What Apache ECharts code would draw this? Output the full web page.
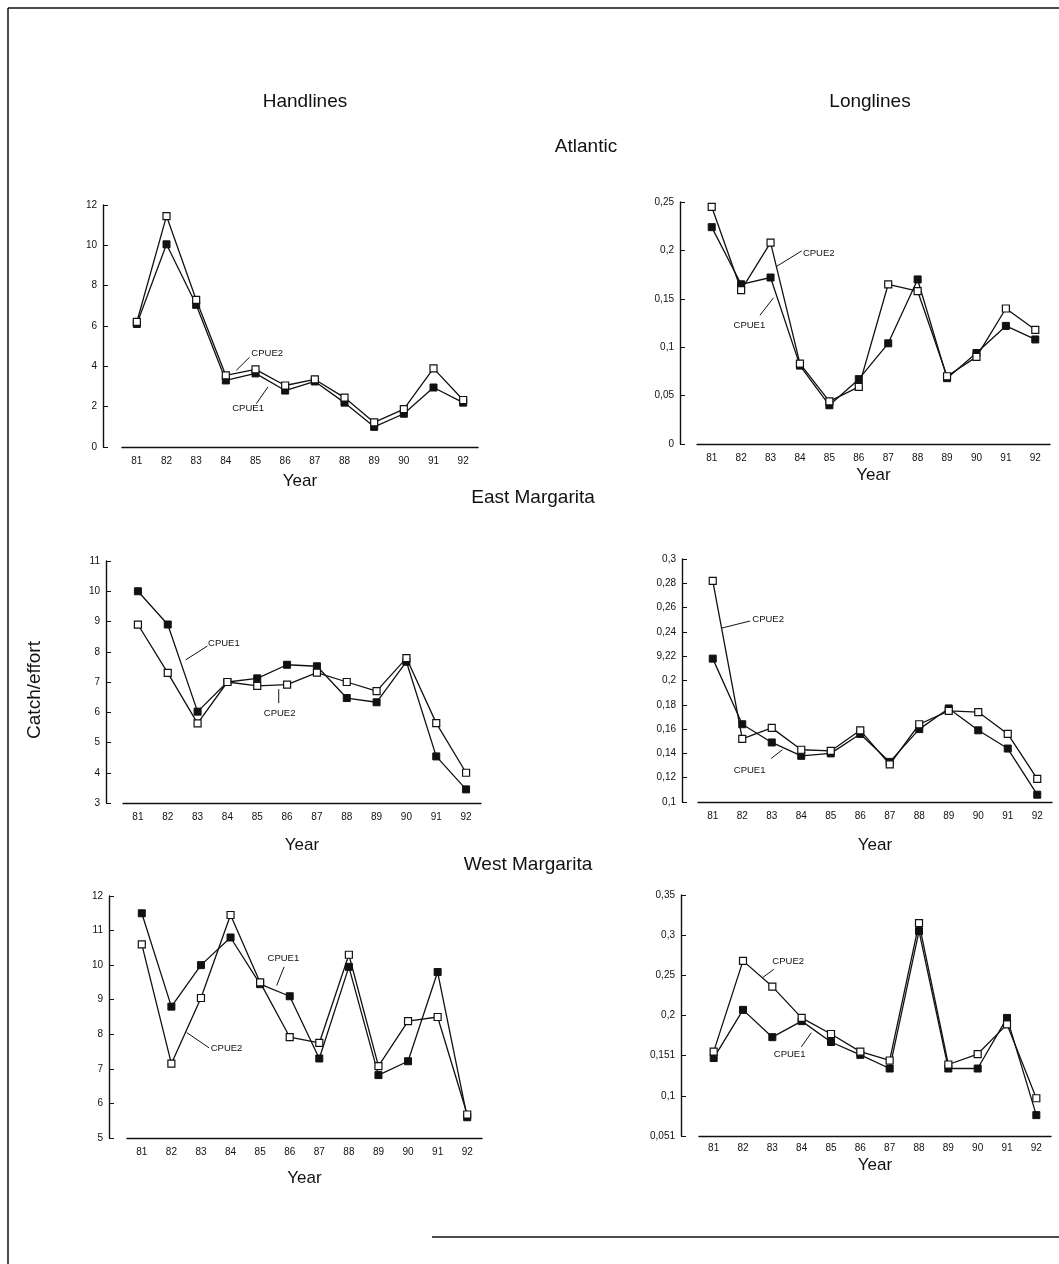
<!DOCTYPE html>
<html>
<head>
<meta charset="utf-8">
<script src="https://cdn.jsdelivr.net/npm/echarts@6/dist/echarts.min.js"></script>
<style>
html,body{margin:0;padding:0;background:#fff;}
#c{width:1059px;height:1264px;}
</style>
</head>
<body>
<div id="c"></div>
<script>
// ---------- DATA ----------
const years = ['81','82','83','84','85','86','87','88','89','90','91','92'];

// Handlines - Atlantic
const hlAtlCpue1 = [6.1, 10.05, 7.05, 3.3, 3.65, 2.8, 3.25, 2.2, 1.0, 1.65, 2.95, 2.2];
const hlAtlCpue2 = [6.2, 11.45, 7.3, 3.55, 3.85, 3.05, 3.35, 2.45, 1.22, 1.88, 3.9, 2.33];
// Longlines - Atlantic
const llAtlCpue1 = [0.224, 0.165, 0.172, 0.081, 0.040, 0.067, 0.104, 0.170, 0.068, 0.094, 0.122, 0.108];
const llAtlCpue2 = [0.245, 0.159, 0.208, 0.083, 0.044, 0.059, 0.165, 0.158, 0.070, 0.090, 0.140, 0.118];
// Handlines - East Margarita
const hlEastCpue1 = [10.0, 8.9, 6.02, 7.0, 7.12, 7.57, 7.52, 6.47, 6.33, 7.67, 4.54, 3.45];
const hlEastCpue2 = [8.9, 7.3, 5.63, 7.0, 6.87, 6.91, 7.31, 7.0, 6.7, 7.79, 5.64, 4.0];
// Longlines - East Margarita
const llEastCpue1 = [0.218, 0.164, 0.149, 0.138, 0.140, 0.156, 0.133, 0.160, 0.177, 0.159, 0.144, 0.106];
const llEastCpue2 = [0.282, 0.152, 0.161, 0.143, 0.142, 0.159, 0.131, 0.164, 0.175, 0.174, 0.156, 0.119];
// Handlines - West Margarita
const hlWestCpue1 = [11.5, 8.8, 10.0, 10.8, 9.45, 9.1, 7.3, 9.95, 6.82, 7.22, 9.8, 5.6];
const hlWestCpue2 = [10.6, 7.15, 9.05, 11.45, 9.5, 7.92, 7.75, 10.3, 7.08, 8.38, 8.5, 5.68];
// Longlines - West Margarita
const llWestCpue1 = [0.147, 0.207, 0.173, 0.193, 0.167, 0.151, 0.134, 0.305, 0.134, 0.134, 0.197, 0.076];
const llWestCpue2 = [0.155, 0.268, 0.236, 0.197, 0.177, 0.155, 0.144, 0.315, 0.139, 0.152, 0.189, 0.097];

// Y tick values and their printed labels (as printed in the original)
const hlAtlTicks  = [0, 2, 4, 6, 8, 10, 12];
const hlAtlLabels = ['0','2','4','6','8','10','12'];
const llAtlTicks  = [0, 0.05, 0.1, 0.15, 0.2, 0.25];
const llAtlLabels = ['0','0,05','0,1','0,15','0,2','0,25'];
const hlEastTicks  = [3, 4, 5, 6, 7, 8, 9, 10, 11];
const hlEastLabels = ['3','4','5','6','7','8','9','10','11'];
const llEastTicks  = [0.1, 0.12, 0.14, 0.16, 0.18, 0.2, 0.22, 0.24, 0.26, 0.28, 0.3];
const llEastLabels = ['0,1','0,12','0,14','0,16','0,18','0,2','9,22','0,24','0,26','0,28','0,3'];
const hlWestTicks  = [5, 6, 7, 8, 9, 10, 11, 12];
const hlWestLabels = ['5','6','7','8','9','10','11','12'];
const llWestTicks  = [0.05, 0.1, 0.15, 0.2, 0.25, 0.3, 0.35];
const llWestLabels = ['0,051','0,1','0,151','0,2','0,25','0,3','0,35'];

const seriesNames = ['CPUE1', 'CPUE2'];
const gearTitles = ['Handlines', 'Longlines'];
const regionTitles = ['Atlantic', 'East Margarita', 'West Margarita'];
const yTitle = 'Catch/effort';
const xTitle = 'Year';

// ---------- LAYOUT ----------
const FONT = '"Liberation Sans", Arial, Helvetica, sans-serif';
const panels = [
  {c1: hlAtlCpue1, c2: hlAtlCpue2, ticks: hlAtlTicks, labels: hlAtlLabels, interval: 2,
   grid: {left: 122, top: 205, width: 356, height: 242}, offset: 19, nameGap: 26, labelMargin: 9},
  {c1: llAtlCpue1, c2: llAtlCpue2, ticks: llAtlTicks, labels: llAtlLabels, interval: 0.05,
   grid: {left: 697, top: 202, width: 353, height: 242}, offset: 17, nameGap: 23, labelMargin: 9},
  {c1: hlEastCpue1, c2: hlEastCpue2, ticks: hlEastTicks, labels: hlEastLabels, interval: 1,
   grid: {left: 123, top: 561, width: 358, height: 242}, offset: 17, nameGap: 34, labelMargin: 9},
  {c1: llEastCpue1, c2: llEastCpue2, ticks: llEastTicks, labels: llEastLabels, interval: 0.02,
   grid: {left: 698, top: 559, width: 354, height: 243}, offset: 16, nameGap: 35, labelMargin: 9},
  {c1: hlWestCpue1, c2: hlWestCpue2, ticks: hlWestTicks, labels: hlWestLabels, interval: 1,
   grid: {left: 127, top: 896, width: 355, height: 242}, offset: 18, nameGap: 32, labelMargin: 9},
  {c1: llWestCpue1, c2: llWestCpue2, ticks: llWestTicks, labels: llWestLabels, interval: 0.05,
   grid: {left: 699, top: 895, width: 352, height: 241}, offset: 18, nameGap: 21, labelMargin: 7}
];

// annotation anchors in data space: [category index, value]
const annotations = [
  [{name: 'CPUE2', from: [3.35, 3.8], to: [3.8, 4.45], at: [3.86, 4.64], align: 'left'},
   {name: 'CPUE1', from: [4.42, 2.98], to: [4.03, 2.15], at: [3.75, 1.9], align: 'center'}],
  [{name: 'CPUE2', from: [2.21, 0.1836], to: [3.06, 0.1995], at: [3.1, 0.197], align: 'left'},
   {name: 'CPUE1', from: [2.1, 0.151], to: [1.64, 0.133], at: [1.28, 0.1228], align: 'center'}],
  [{name: 'CPUE1', from: [1.6, 7.73], to: [2.33, 8.19], at: [2.35, 8.27], align: 'left'},
   {name: 'CPUE2', from: [4.72, 6.76], to: [4.72, 6.3], at: [4.75, 5.97], align: 'center'}],
  [{name: 'CPUE2', from: [0.28, 0.243], to: [1.27, 0.249], at: [1.34, 0.25], align: 'left'},
   {name: 'CPUE1', from: [2.36, 0.143], to: [1.98, 0.1358], at: [1.25, 0.126], align: 'center'}],
  [{name: 'CPUE1', from: [4.56, 9.41], to: [4.81, 9.95], at: [4.25, 10.21], align: 'left'},
   {name: 'CPUE2', from: [1.52, 8.05], to: [2.27, 7.61], at: [2.33, 7.58], align: 'left'}],
  [{name: 'CPUE2', from: [1.68, 0.2475], to: [2.05, 0.2575], at: [2.0, 0.267], align: 'left'},
   {name: 'CPUE1', from: [3.33, 0.1786], to: [2.99, 0.161], at: [2.05, 0.152], align: 'left'}]
];

const INK = '#111111';
const grids = [], xAxes = [], yAxes = [], series = [];
panels.forEach((p, i) => {
  grids.push(Object.assign({containLabel: false}, p.grid));
  xAxes.push({
    type: 'category', gridIndex: i, data: years, boundaryGap: true,
    name: xTitle, nameLocation: 'middle', nameGap: p.nameGap,
    nameTextStyle: {fontSize: 17, fontFamily: FONT, color: INK},
    axisLine: {lineStyle: {color: INK, width: 1.4}},
    axisTick: {inside: true, length: 4, alignWithLabel: true, lineStyle: {color: INK, width: 1}},
    axisLabel: {fontSize: 10, fontFamily: FONT, color: INK, margin: p.labelMargin, interval: 0},
    splitLine: {show: false}
  });
  const lo = p.ticks[0], hi = p.ticks[p.ticks.length - 1];
  yAxes.push({
    type: 'value', gridIndex: i, min: lo, max: hi, interval: p.interval,
    offset: p.offset,
    axisLine: {show: true, lineStyle: {color: INK, width: 1.4}},
    axisTick: {show: true, inside: true, length: 5, lineStyle: {color: INK, width: 1}},
    axisLabel: {
      fontSize: 10, fontFamily: FONT, color: INK, margin: 6,
      formatter: v => {
        for (let k = 0; k < p.ticks.length; k++) {
          if (Math.abs(p.ticks[k] - v) < 1e-6) return p.labels[k];
        }
        return '';
      }
    },
    splitLine: {show: false}
  });
  [p.c1, p.c2].forEach((d, s) => {
    series.push({
      type: 'line', name: seriesNames[s], xAxisIndex: i, yAxisIndex: i, data: d,
      symbol: 'rect', symbolSize: 7, showSymbol: true,
      lineStyle: {color: INK, width: 1.3},
      itemStyle: s === 0 ? {color: INK, borderColor: INK, borderWidth: 1}
                         : {color: '#ffffff', borderColor: INK, borderWidth: 1.2},
      z: 2 + s, animation: false, silent: true
    });
  });
});

function txt(text, x, y, size, extra) {
  return Object.assign({
    type: 'text', x: x, y: y,
    style: {text: text, fontSize: size, fontFamily: FONT, fill: INK,
            align: 'center', verticalAlign: 'middle',
            textAlign: 'center', textVerticalAlign: 'middle'}
  }, extra || {});
}

const staticGraphics = [
  // frame
  {type: 'line', shape: {x1: 8, y1: 8, x2: 1059, y2: 8}, style: {stroke: INK, lineWidth: 1.5}},
  {type: 'line', shape: {x1: 8, y1: 8, x2: 8, y2: 1264}, style: {stroke: INK, lineWidth: 1.5}},
  {type: 'line', shape: {x1: 432, y1: 1237, x2: 1059, y2: 1237}, style: {stroke: INK, lineWidth: 1.5}},
  txt(gearTitles[0], 305, 102, 19),
  txt(gearTitles[1], 870, 102, 19),
  txt(regionTitles[0], 586, 147, 19),
  txt(regionTitles[1], 533, 498, 19),
  txt(regionTitles[2], 528, 865, 19),
  txt(yTitle, 35, 690, 19, {rotation: Math.PI / 2})
];

const chart = echarts.init(document.getElementById('c'), null, {renderer: 'canvas'});
chart.setOption({
  backgroundColor: '#ffffff',
  animation: false,
  grid: grids, xAxis: xAxes, yAxis: yAxes, series: series,
  graphic: staticGraphics
});

// annotations positioned through the axes
function toPx(i, pt) {
  const f = Math.floor(pt[0]), c = Math.min(f + 1, years.length - 1);
  const xf = chart.convertToPixel({xAxisIndex: i}, years[f]);
  const xc = chart.convertToPixel({xAxisIndex: i}, years[c]);
  const t = pt[0] - f;
  const x = xf + (xc - xf) * t;
  const y = chart.convertToPixel({yAxisIndex: i}, pt[1]);
  return [x, y];
}
const annGraphics = [];
annotations.forEach((list, i) => {
  list.forEach(a => {
    const p1 = toPx(i, a.from), p2 = toPx(i, a.to), pt = toPx(i, a.at);
    annGraphics.push({type: 'line', shape: {x1: p1[0], y1: p1[1], x2: p2[0], y2: p2[1]},
                      style: {stroke: INK, lineWidth: 1}});
    annGraphics.push({type: 'text', x: pt[0], y: pt[1],
      style: {text: a.name, fontSize: 9.5, fontFamily: FONT, fill: INK,
              align: a.align, verticalAlign: 'middle',
              textAlign: a.align, textVerticalAlign: 'middle'}});
  });
});
chart.setOption({graphic: staticGraphics.concat(annGraphics)});
</script>
</body>
</html>
